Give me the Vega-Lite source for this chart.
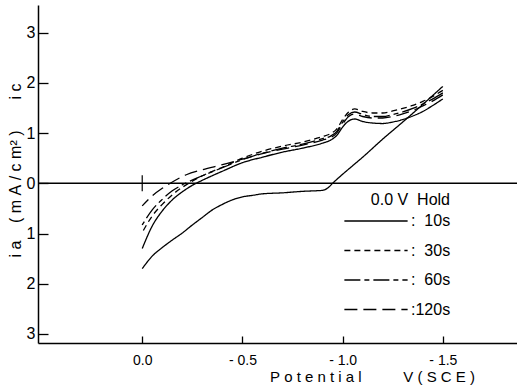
{
  "$schema": "https://vega.github.io/schema/vega-lite/v6.json",
  "width": 479,
  "height": 338,
  "autosize": {"type": "none"},
  "padding": {"left": 38, "top": 5, "right": 0, "bottom": 45},
  "background": "white",
  "config": {
    "view": {"stroke": null},
    "font": "Liberation Sans",
    "axis": {"grid": false, "domainColor": "black", "tickColor": "black", "labelColor": "black", "titleColor": "black", "domainWidth": 1.5, "tickWidth": 1.3, "titleFontWeight": "normal"}
  },
  "datasets": {
    "curves": [
      {"s": "fwd", "o": 1, "v": 0, "i": -1.7},
      {"s": "fwd", "o": 2, "v": -0.05, "i": -1.45},
      {"s": "fwd", "o": 3, "v": -0.1, "i": -1.28},
      {"s": "fwd", "o": 4, "v": -0.15, "i": -1.13},
      {"s": "fwd", "o": 5, "v": -0.2, "i": -0.99},
      {"s": "fwd", "o": 6, "v": -0.25, "i": -0.83},
      {"s": "fwd", "o": 7, "v": -0.3, "i": -0.68},
      {"s": "fwd", "o": 8, "v": -0.35, "i": -0.53},
      {"s": "fwd", "o": 9, "v": -0.4, "i": -0.42},
      {"s": "fwd", "o": 10, "v": -0.45, "i": -0.33},
      {"s": "fwd", "o": 11, "v": -0.5, "i": -0.27},
      {"s": "fwd", "o": 12, "v": -0.55, "i": -0.24},
      {"s": "fwd", "o": 13, "v": -0.6, "i": -0.21},
      {"s": "fwd", "o": 14, "v": -0.7, "i": -0.19},
      {"s": "fwd", "o": 15, "v": -0.8, "i": -0.16},
      {"s": "fwd", "o": 16, "v": -0.9, "i": -0.14},
      {"s": "fwd", "o": 17, "v": -0.93, "i": -0.08},
      {"s": "fwd", "o": 18, "v": -0.95, "i": 0.0},
      {"s": "fwd", "o": 19, "v": -1.0, "i": 0.18},
      {"s": "fwd", "o": 20, "v": -1.05, "i": 0.35},
      {"s": "fwd", "o": 21, "v": -1.1, "i": 0.52},
      {"s": "fwd", "o": 22, "v": -1.2, "i": 0.88},
      {"s": "fwd", "o": 23, "v": -1.3, "i": 1.22},
      {"s": "fwd", "o": 24, "v": -1.4, "i": 1.57},
      {"s": "fwd", "o": 25, "v": -1.45, "i": 1.75},
      {"s": "fwd", "o": 26, "v": -1.5, "i": 1.93},

      {"s": "10s", "o": 1, "v": -1.5, "i": 1.68},
      {"s": "10s", "o": 2, "v": -1.45, "i": 1.55},
      {"s": "10s", "o": 3, "v": -1.4, "i": 1.43},
      {"s": "10s", "o": 4, "v": -1.35, "i": 1.34},
      {"s": "10s", "o": 5, "v": -1.3, "i": 1.27},
      {"s": "10s", "o": 6, "v": -1.25, "i": 1.22},
      {"s": "10s", "o": 7, "v": -1.2, "i": 1.19},
      {"s": "10s", "o": 8, "v": -1.15, "i": 1.2},
      {"s": "10s", "o": 9, "v": -1.1, "i": 1.23},
      {"s": "10s", "o": 10, "v": -1.06, "i": 1.28},
      {"s": "10s", "o": 11, "v": -1.03, "i": 1.24},
      {"s": "10s", "o": 12, "v": -1.0, "i": 1.12},
      {"s": "10s", "o": 13, "v": -0.97, "i": 0.95},
      {"s": "10s", "o": 14, "v": -0.94, "i": 0.86},
      {"s": "10s", "o": 15, "v": -0.9, "i": 0.8},
      {"s": "10s", "o": 16, "v": -0.8, "i": 0.7},
      {"s": "10s", "o": 17, "v": -0.7, "i": 0.62},
      {"s": "10s", "o": 18, "v": -0.6, "i": 0.52},
      {"s": "10s", "o": 19, "v": -0.5, "i": 0.41},
      {"s": "10s", "o": 20, "v": -0.4, "i": 0.24},
      {"s": "10s", "o": 21, "v": -0.3, "i": 0.06},
      {"s": "10s", "o": 22, "v": -0.25, "i": -0.04},
      {"s": "10s", "o": 23, "v": -0.2, "i": -0.17},
      {"s": "10s", "o": 24, "v": -0.15, "i": -0.33},
      {"s": "10s", "o": 25, "v": -0.1, "i": -0.55},
      {"s": "10s", "o": 26, "v": -0.05, "i": -0.85},
      {"s": "10s", "o": 27, "v": 0, "i": -1.3},

      {"s": "30s", "o": 1, "v": -1.5, "i": 1.85},
      {"s": "30s", "o": 2, "v": -1.45, "i": 1.73},
      {"s": "30s", "o": 3, "v": -1.4, "i": 1.63},
      {"s": "30s", "o": 4, "v": -1.35, "i": 1.55},
      {"s": "30s", "o": 5, "v": -1.3, "i": 1.49},
      {"s": "30s", "o": 6, "v": -1.25, "i": 1.44},
      {"s": "30s", "o": 7, "v": -1.2, "i": 1.4},
      {"s": "30s", "o": 8, "v": -1.15, "i": 1.4},
      {"s": "30s", "o": 9, "v": -1.1, "i": 1.43},
      {"s": "30s", "o": 10, "v": -1.06, "i": 1.48},
      {"s": "30s", "o": 11, "v": -1.03, "i": 1.42},
      {"s": "30s", "o": 12, "v": -1.0, "i": 1.27},
      {"s": "30s", "o": 13, "v": -0.97, "i": 1.08},
      {"s": "30s", "o": 14, "v": -0.94, "i": 0.99},
      {"s": "30s", "o": 15, "v": -0.9, "i": 0.93},
      {"s": "30s", "o": 16, "v": -0.8, "i": 0.82},
      {"s": "30s", "o": 17, "v": -0.7, "i": 0.74},
      {"s": "30s", "o": 18, "v": -0.6, "i": 0.64},
      {"s": "30s", "o": 19, "v": -0.5, "i": 0.5},
      {"s": "30s", "o": 20, "v": -0.4, "i": 0.32},
      {"s": "30s", "o": 21, "v": -0.3, "i": 0.15},
      {"s": "30s", "o": 22, "v": -0.24, "i": 0.02},
      {"s": "30s", "o": 23, "v": -0.2, "i": -0.08},
      {"s": "30s", "o": 24, "v": -0.15, "i": -0.23},
      {"s": "30s", "o": 25, "v": -0.1, "i": -0.42},
      {"s": "30s", "o": 26, "v": -0.05, "i": -0.65},
      {"s": "30s", "o": 27, "v": 0, "i": -0.98},

      {"s": "60s", "o": 1, "v": -1.5, "i": 1.8},
      {"s": "60s", "o": 2, "v": -1.45, "i": 1.68},
      {"s": "60s", "o": 3, "v": -1.4, "i": 1.58},
      {"s": "60s", "o": 4, "v": -1.35, "i": 1.49},
      {"s": "60s", "o": 5, "v": -1.3, "i": 1.42},
      {"s": "60s", "o": 6, "v": -1.25, "i": 1.37},
      {"s": "60s", "o": 7, "v": -1.2, "i": 1.33},
      {"s": "60s", "o": 8, "v": -1.15, "i": 1.33},
      {"s": "60s", "o": 9, "v": -1.1, "i": 1.37},
      {"s": "60s", "o": 10, "v": -1.06, "i": 1.42},
      {"s": "60s", "o": 11, "v": -1.03, "i": 1.37},
      {"s": "60s", "o": 12, "v": -1.0, "i": 1.22},
      {"s": "60s", "o": 13, "v": -0.97, "i": 1.03},
      {"s": "60s", "o": 14, "v": -0.94, "i": 0.94},
      {"s": "60s", "o": 15, "v": -0.9, "i": 0.89},
      {"s": "60s", "o": 16, "v": -0.8, "i": 0.78},
      {"s": "60s", "o": 17, "v": -0.7, "i": 0.7},
      {"s": "60s", "o": 18, "v": -0.6, "i": 0.6},
      {"s": "60s", "o": 19, "v": -0.5, "i": 0.47},
      {"s": "60s", "o": 20, "v": -0.4, "i": 0.31},
      {"s": "60s", "o": 21, "v": -0.3, "i": 0.15},
      {"s": "60s", "o": 22, "v": -0.2, "i": -0.03},
      {"s": "60s", "o": 23, "v": -0.15, "i": -0.15},
      {"s": "60s", "o": 24, "v": -0.1, "i": -0.32},
      {"s": "60s", "o": 25, "v": -0.05, "i": -0.53},
      {"s": "60s", "o": 26, "v": 0, "i": -0.83},

      {"s": "120s", "o": 1, "v": -1.5, "i": 1.76},
      {"s": "120s", "o": 2, "v": -1.45, "i": 1.64},
      {"s": "120s", "o": 3, "v": -1.4, "i": 1.54},
      {"s": "120s", "o": 4, "v": -1.35, "i": 1.45},
      {"s": "120s", "o": 5, "v": -1.3, "i": 1.38},
      {"s": "120s", "o": 6, "v": -1.25, "i": 1.33},
      {"s": "120s", "o": 7, "v": -1.2, "i": 1.3},
      {"s": "120s", "o": 8, "v": -1.15, "i": 1.3},
      {"s": "120s", "o": 9, "v": -1.1, "i": 1.33},
      {"s": "120s", "o": 10, "v": -1.06, "i": 1.38},
      {"s": "120s", "o": 11, "v": -1.03, "i": 1.33},
      {"s": "120s", "o": 12, "v": -1.0, "i": 1.18},
      {"s": "120s", "o": 13, "v": -0.97, "i": 1.0},
      {"s": "120s", "o": 14, "v": -0.94, "i": 0.91},
      {"s": "120s", "o": 15, "v": -0.9, "i": 0.86},
      {"s": "120s", "o": 16, "v": -0.8, "i": 0.76},
      {"s": "120s", "o": 17, "v": -0.7, "i": 0.68},
      {"s": "120s", "o": 18, "v": -0.6, "i": 0.59},
      {"s": "120s", "o": 19, "v": -0.5, "i": 0.48},
      {"s": "120s", "o": 20, "v": -0.4, "i": 0.37},
      {"s": "120s", "o": 21, "v": -0.3, "i": 0.27},
      {"s": "120s", "o": 22, "v": -0.22, "i": 0.17},
      {"s": "120s", "o": 23, "v": -0.14, "i": 0.0},
      {"s": "120s", "o": 24, "v": -0.1, "i": -0.1},
      {"s": "120s", "o": 25, "v": -0.05, "i": -0.25},
      {"s": "120s", "o": 26, "v": 0, "i": -0.45}
    ],
    "zero": [{"i": 0}],
    "start": [{"v": 0, "lo": -0.16, "hi": 0.16}]
  },
  "layer": [
    {
      "data": {"name": "zero"},
      "mark": {"type": "rule", "color": "black", "strokeWidth": 1.4},
      "encoding": {"y": {"field": "i", "type": "quantitative"}}
    },
    {
      "data": {"name": "start"},
      "mark": {"type": "rule", "color": "black", "strokeWidth": 1.2},
      "encoding": {
        "x": {"field": "v", "type": "quantitative"},
        "y": {"field": "lo", "type": "quantitative"},
        "y2": {"field": "hi"}
      }
    },
    {
      "data": {"name": "curves"},
      "mark": {"type": "line", "color": "black", "strokeWidth": 1.3, "interpolate": "monotone"},
      "encoding": {
        "x": {
          "field": "v", "type": "quantitative",
          "scale": {"domain": [-1.87, 0.52], "reverse": true, "zero": false, "nice": false},
          "axis": {
            "values": [0, -0.5, -1, -1.5],
            "labelExpr": "datum.value == 0 ? '0.0' : '-\u00a0' + format(abs(datum.value), '.1f')",
            "tickSize": -7,
            "labelFontSize": 14,
            "labelPadding": 17,
            "title": "P\u00a0o\u00a0t\u00a0e\u00a0n\u00a0t\u00a0i\u00a0a\u00a0l\u00a0\u00a0\u00a0\u00a0\u00a0\u00a0\u00a0\u00a0\u00a0\u00a0V\u00a0(\u00a0S\u00a0C\u00a0E\u00a0)",
            "titleFontSize": 15,
            "titleX": 334,
            "titleY": 33,
            "titleAlign": "center",
            "titleBaseline": "middle"
          }
        },
        "y": {
          "field": "i", "type": "quantitative",
          "scale": {"domain": [-3.18, 3.55], "zero": false, "nice": false},
          "axis": {
            "values": [-3, -2, -1, 0, 1, 2, 3],
            "labelExpr": "format(abs(datum.value), 'd')",
            "tickSize": -10,
            "labelFontSize": 16,
            "labelPadding": 13,
            "title": "i\u00a0a\u00a0\u00a0\u00a0\u00a0(\u00a0m\u00a0A\u00a0/\u00a0c\u00a0m²\u00a0)\u00a0\u00a0\u00a0\u00a0\u00a0\u00a0\u00a0i\u00a0c",
            "titleFontSize": 16,
            "titleAngle": -90,
            "titleX": -23,
            "titleY": 165,
            "titleAlign": "center",
            "titleBaseline": "middle"
          }
        },
        "detail": {"field": "s"},
        "order": {"field": "o", "type": "quantitative"},
        "strokeDash": {
          "field": "s", "type": "nominal",
          "scale": {"domain": ["10s", "30s", "60s", "120s", "fwd"], "range": [[1, 0], [6, 4], [16, 4, 5, 4], [13, 6], [1, 0]]},
          "legend": {
            "values": ["10s", "30s", "60s", "120s"],
            "orient": "none",
            "legendX": 330,
            "legendY": 187,
            "title": "0.0\u00a0V\u00a0\u00a0Hold",
            "titleFontSize": 16,
            "titleFontWeight": "normal",
            "titleColor": "black",
            "titleAnchor": "end",
            "titlePadding": 5,
            "symbolType": "M-10,0H10",
            "symbolSize": 40,
            "symbolStrokeColor": "black",
            "symbolStrokeWidth": 1.3,
            "labelFontSize": 16,
            "labelColor": "black",
            "labelOffset": 27,
            "labelExpr": "datum.label == '120s' ? ':120s' : ':\u00a0\u00a0' + datum.label",
            "rowPadding": 13.5,
            "padding": 0
          }
        }
      }
    }
  ]
}
